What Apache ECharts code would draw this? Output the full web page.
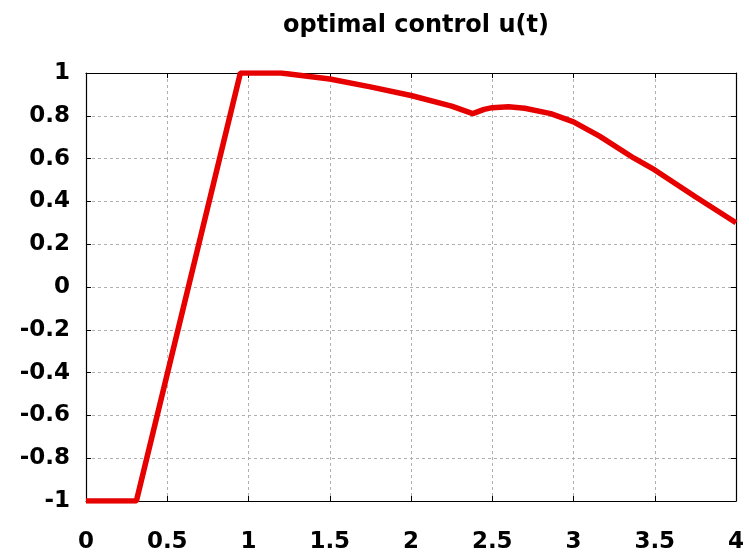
<!DOCTYPE html>
<html>
<head>
<meta charset="utf-8">
<style>
  html, body { margin: 0; padding: 0; background: #fff; }
  #chart { width: 749px; height: 555px; }
</style>
<script src="https://cdn.jsdelivr.net/npm/echarts@6/dist/echarts.min.js"></script>
</head>
<body>
<div id="chart"></div>
<script>
// time samples and control values
const tValues = [0, 0.31, 0.95, 1.2, 1.5, 1.75, 2.0, 2.25, 2.38, 2.45, 2.5, 2.6, 2.7, 2.86, 3.0, 3.16, 3.37, 3.5, 3.75, 4.0]
const uValues = [-1, -1, 1, 1, 0.972, 0.935, 0.895, 0.845, 0.81, 0.83, 0.838, 0.842, 0.835, 0.81, 0.772, 0.705, 0.603, 0.547, 0.422, 0.3]

const xTicks = { min: 0, max: 4, interval: 0.5 }
const yTicks = { min: -1, max: 1, interval: 0.2 }

const chart = echarts.init(document.getElementById('chart'))

const labelFont = { color: '#000', fontSize: 23, fontWeight: 'bold', fontFamily: 'DejaVu Sans' }
const gridDash = { color: '#b0b0b0', type: [3, 3], width: 1 }
const frame = { show: true, onZero: false, lineStyle: { color: '#000', width: 1.2 } }
const tickIn = { show: true, inside: true, length: 5, lineStyle: { color: '#000' } }

chart.setOption({
  animation: false,
  title: {
    text: 'optimal control u(t)',
    left: 411,
    textAlign: 'center',
    top: 9,
    textStyle: { fontSize: 24, fontWeight: 'bold', fontFamily: 'DejaVu Sans', color: '#000' },
  },
  grid: { left: 86, right: 13, top: 73, bottom: 54 },
  xAxis: [
    {
      type: 'value', ...xTicks,
      axisLine: frame, axisTick: tickIn,
      axisLabel: { ...labelFont, margin: 30, formatter: (v) => String(v) },
      splitLine: { show: true, lineStyle: gridDash },
    },
    {
      type: 'value', position: 'top', ...xTicks,
      axisLine: frame, axisTick: tickIn, axisLabel: { show: false }, splitLine: { show: false },
    },
  ],
  yAxis: [
    {
      type: 'value', ...yTicks,
      axisLine: frame, axisTick: tickIn,
      axisLabel: { ...labelFont, margin: 16, formatter: (v) => String(Math.round(v * 10) / 10) },
      splitLine: { show: true, lineStyle: gridDash },
    },
    {
      type: 'value', position: 'right', ...yTicks,
      axisLine: frame, axisTick: tickIn, axisLabel: { show: false }, splitLine: { show: false },
    },
  ],
  series: [{
    type: 'line',
    symbol: 'none',
    lineStyle: { color: '#e60000', width: 5.5 },
    data: tValues.map((t, i) => [t, uValues[i]]),
  }],
})
</script>
</body>
</html>
